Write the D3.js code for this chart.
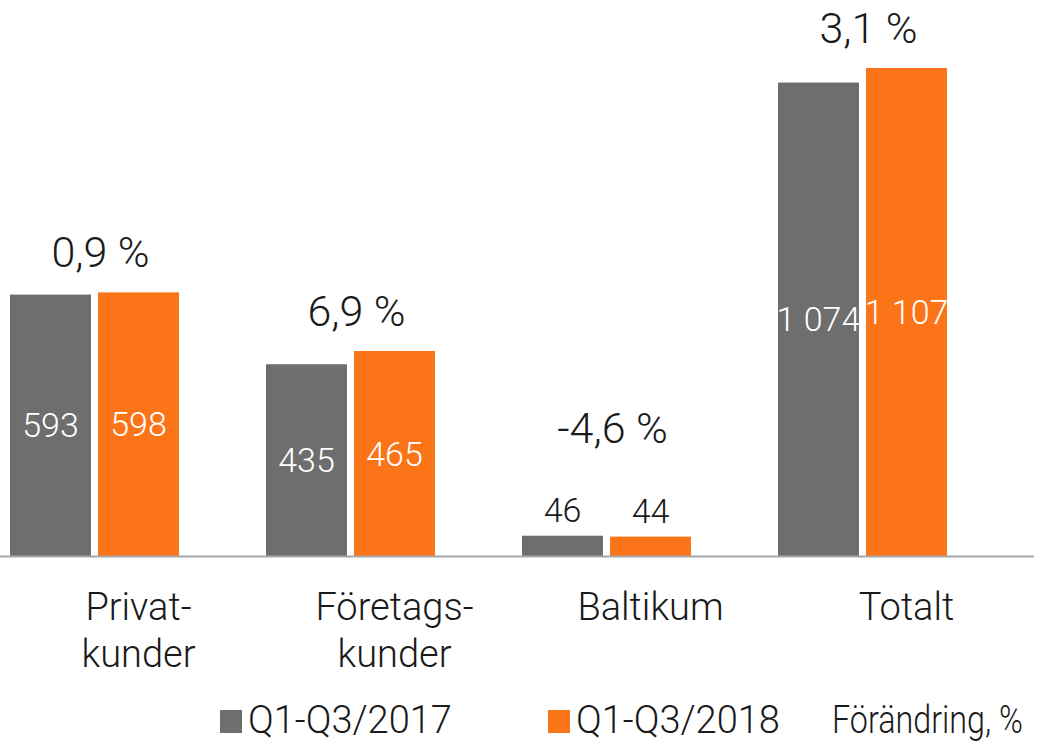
<!DOCTYPE html>
<html>
<head>
<meta charset="utf-8">
<script src="https://cdn.jsdelivr.net/npm/d3@7/dist/d3.min.js"></script>
<style>
  body { margin: 0; background: #fff; }
  svg text { font-family: Roboto, "Open Sans", sans-serif; font-weight: 300; fill: #1a1a1a; }
</style>
</head>
<body>
<div id="chart"></div>
<script>
var w = 1037, h = 742;

// data
var categories = [['Privat-', 'kunder'], ['Företags-', 'kunder'], ['Baltikum'], ['Totalt']];
var series = ['Q1-Q3/2017', 'Q1-Q3/2018'];
var values2017 = [593, 435, 46, 1074];
var values2018 = [598, 465, 44, 1107];
var changeLabels = ['0,9 %', '6,9 %', '-4,6 %', '3,1 %'];
var legendLabels = ['Q1-Q3/2017', 'Q1-Q3/2018', 'Förändring, %'];

var color = ['#6e6e6e', '#fc7418'];
var fmt = function(v) { return d3.format(',')(v).replace(/,/g, ' '); };

var keys = categories.map(function(c) { return c.join(''); });

var x0 = d3.scaleBand().domain(keys).range([0, 1024]);
// third (hidden) slot belongs to the change series
var x1 = d3.scaleBand().domain(['a', 'b', 'c']).range([10, 267]).paddingInner(0.08);
var y = d3.scaleLinear().domain([0, 1200]).range([556, 27]);

var svg = d3.select('#chart').append('svg')
    .attr('width', w)
    .attr('height', h);

var rows = keys.map(function(k, i) {
    return { key: k, lines: categories[i], vals: [values2017[i], values2018[i]], change: changeLabels[i] };
});

var g = svg.selectAll('g.grp')
    .data(rows)
    .enter()
    .append('g')
    .attr('class', 'grp')
    .attr('transform', function(d) { return 'translate(' + x0(d.key) + ',0)'; });

var minInside = 60; // px of bar needed to fit a label inside

g.each(function(d) {
    var gg = d3.select(this);
    var bars = d.vals.map(function(v, j) { return { v: v, j: j, slot: ['a', 'b'][j] }; });

    gg.selectAll('rect')
        .data(bars)
        .enter()
        .append('rect')
        .attr('x', function(b) { return x1(b.slot); })
        .attr('width', x1.bandwidth())
        .attr('y', function(b) { return y(b.v); })
        .attr('height', function(b) { return y(0) - y(b.v); })
        .attr('fill', function(b) { return color[b.j]; });

    var inside = (y(0) - y(d3.min(d.vals))) > minInside;

    gg.selectAll('text.val')
        .data(bars)
        .enter()
        .append('text')
        .attr('class', 'val')
        .attr('x', function(b) { return x1(b.slot) + x1.bandwidth() / 2; })
        .attr('y', function(b) {
            return inside ? (y(b.v) + y(0)) / 2 + 12 : y(b.v) - 14;
        })
        .attr('text-anchor', 'middle')
        .style('font-size', '34px')
        .style('fill', inside ? '#fff' : '#1a1a1a')
        .text(function(b) { return fmt(b.v); });

    var top = y(d3.max(d.vals)) - 25 - (inside ? 0 : 68);
    gg.append('text')
        .attr('class', 'chg')
        .attr('x', (x1('a') + x1('b') + x1.bandwidth()) / 2 + 6)
        .attr('y', top)
        .attr('text-anchor', 'middle')
        .style('font-size', '43px')
        .text(d.change);

    var lbl = gg.append('text')
        .attr('text-anchor', 'middle')
        .style('font-size', '38px');
    lbl.selectAll('tspan')
        .data(d.lines)
        .enter()
        .append('tspan')
        .attr('x', (x1.range()[0] + x1.range()[1]) / 2)
        .attr('y', function(t, i) { return 620 + i * 47; })
        .text(function(t) { return t; });
});

// baseline
svg.append('line')
    .attr('x1', 0).attr('x2', 1034)
    .attr('y1', y(0) + 0.5).attr('y2', y(0) + 0.5)
    .attr('stroke', '#a6a6a6')
    .attr('stroke-width', 2);

// legend
var legX = [220, 548, 832];
var legY = 733;
var leg = svg.selectAll('g.leg')
    .data(legendLabels)
    .enter()
    .append('g')
    .attr('class', 'leg')
    .attr('transform', function(d, i) { return 'translate(' + legX[i] + ',' + legY + ')'; });

leg.filter(function(d, i) { return i < 2; })
    .append('rect')
    .attr('x', 0).attr('y', -23)
    .attr('width', 22).attr('height', 23)
    .attr('fill', function(d, i) { return color[i]; });

leg.append('text')
    .attr('x', function(d, i) { return i < 2 ? 28 : 0; })
    .attr('y', 0)
    .attr('transform', function(d, i) { return i < 2 ? null : 'scale(0.85,1)'; })
    .style('font-size', '38px')
    .text(function(d) { return d; });
</script>
</body>
</html>
